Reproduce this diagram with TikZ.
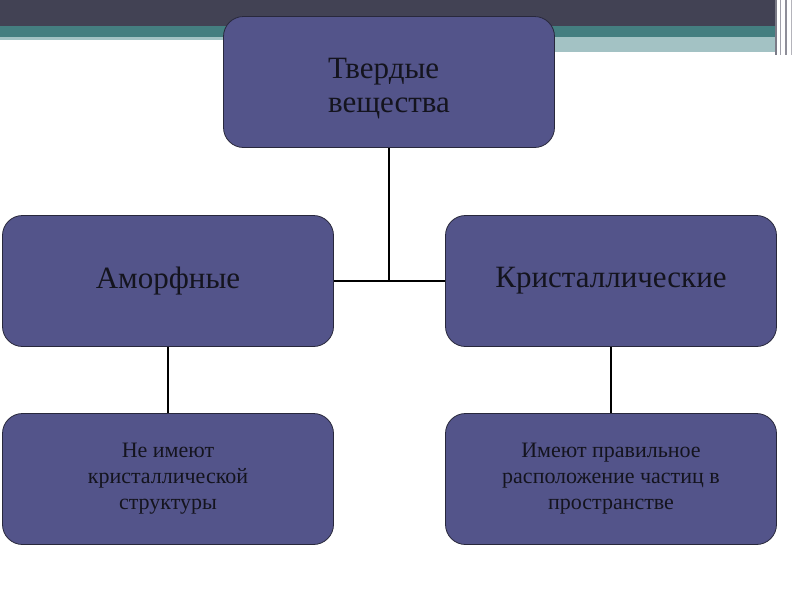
\documentclass[tikz,border=0pt]{standalone}
\usepackage{fontspec}
\setmainfont{Liberation Serif}
\usepackage{xcolor}
\usetikzlibrary{positioning, calc}
\definecolor{BoxFill}{RGB}{83, 84, 138}
\definecolor{BoxBorder}{RGB}{40, 40, 60}
\definecolor{BandDark}{RGB}{66, 66, 84}
\definecolor{BandTeal}{RGB}{68, 126, 128}
\definecolor{BandPale}{RGB}{163, 194, 196}
\definecolor{TextDark}{RGB}{20, 20, 30}

\tikzset{
  catbox/.style={
    rounded corners=20pt, fill=BoxFill, draw=BoxBorder,
    line width=0.8pt, minimum width=331pt, minimum height=131pt,
    align=center, text=TextDark, inner sep=0pt
  },
  bigtext/.style={font=\fontsize{31}{34}\selectfont},
  smalltext/.style={font=\fontsize{22}{26}\selectfont},
  link/.style={draw=black, line width=1.8pt}
}

\begin{document}
\begin{tikzpicture}[x=1pt, y=-1pt]
    % page and header bands
    \useasboundingbox (0,0) rectangle (800,600);
    \fill[white] (0,0) rectangle (800,600);
    \fill[BandDark] (0,0) rectangle (775,26);
    \fill[BandTeal] (0,26) rectangle (775,37);
    \fill[BandPale] (0,37) rectangle (775,40);
    \fill[BandPale] (360,40) rectangle (775,52);
    \fill[white] (360,43) rectangle (484,46);
    \fill[white] (360,52) rectangle (775,55);
    \fill[BandDark!70] (775,0) rectangle (777,55);
    \fill[BandDark!50] (780,0) rectangle (781,55);
    \fill[BandDark!60] (785,0) rectangle (787,55);
    \fill[BandDark!40] (791,0) rectangle (792,55);

    % top level
    \node[catbox, bigtext, align=left] (solid) at (389,82)
      {\rule{0pt}{33pt}Твердые\\вещества};

    % second level
    \node[catbox, bigtext] (amorph) at (168,281) {Аморфные};
    \node[catbox, bigtext] (cryst) at (611,281) {Кристаллические};

    % descriptions
    \node[catbox, smalltext] (amorphtxt) at (168,479)
      {Не имеют\\кристаллической\\структуры};
    \node[catbox, smalltext] (crysttxt) at (611,479)
      {Имеют правильное\\расположение частиц в\\пространстве};

    % connectors
    \coordinate (joint) at (solid.south |- amorph.east);
    \draw[link] (solid.south) -- (joint);
    \draw[link] (amorph.east) -- (cryst.west);
    \draw[link] (amorph.south) -- (amorphtxt.north);
    \draw[link] (cryst.south) -- (crysttxt.north);
  \end{tikzpicture}
\end{document}
